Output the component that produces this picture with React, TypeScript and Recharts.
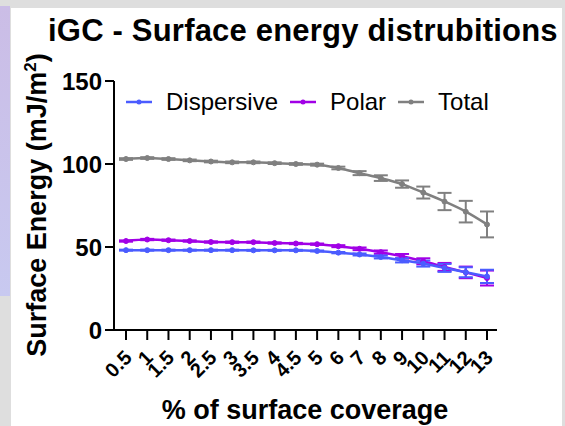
import React from "react";
import { LineChart, Line, XAxis, YAxis, ErrorBar } from "recharts";

const coverage = ["0.5", "1", "1.5", "2", "2.5", "3", "3.5", "4", "4.5", "5", "6", "7", "8", "9", "10", "11", "12", "13"];
const dispersive = [48.1, 48.1, 48.1, 48.1, 48.1, 48.1, 48.0, 48.0, 48.0, 47.6, 46.6, 45.5, 44.0, 42.0, 40.0, 37.4, 34.8, 32.3];
const dispersiveErr = [0.3, 0.3, 0.3, 0.3, 0.3, 0.3, 0.3, 0.3, 0.3, 0.3, 0.4, 0.6, 0.9, 1.3, 1.8, 2.4, 3.0, 4.0];
const polar = [53.6, 54.5, 54.1, 53.6, 53.0, 52.9, 52.9, 52.4, 52.1, 51.7, 50.5, 48.9, 46.9, 44.4, 41.4, 38.0, 34.7, 31.3];
const polarErr = [0.4, 0.4, 0.4, 0.4, 0.4, 0.4, 0.4, 0.4, 0.4, 0.4, 0.6, 0.8, 1.0, 1.4, 1.8, 2.4, 3.5, 4.5];
const total = [103.0, 103.6, 103.0, 102.2, 101.5, 101.0, 101.0, 100.5, 100.0, 99.6, 97.6, 94.5, 91.5, 87.9, 82.8, 77.4, 71.3, 63.6];
const totalErr = [0.5, 0.5, 0.5, 0.5, 0.5, 0.5, 0.5, 0.5, 0.5, 0.6, 0.8, 1.2, 1.7, 2.2, 3.6, 5.2, 6.5, 7.8];
const yTicks = [0, 50, 100, 150];

const series = [
  { key: "Dispersive", color: "#4b5cff" },
  { key: "Polar", color: "#a100e6" },
  { key: "Total", color: "#808080" },
];

const data = coverage.map((c, i) => ({
  x: c,
  Dispersive: dispersive[i],
  dErr: dispersiveErr[i],
  Polar: polar[i],
  pErr: polarErr[i],
  Total: total[i],
  tErr: totalErr[i],
}));

const FONT = '"Liberation Sans", Arial, sans-serif';

function XTick(props: any) {
  const { x, y, payload } = props;
  const ax = x + 7;
  const ay = y + 19;
  return (
    <text
      x={ax}
      y={ay}
      transform={`rotate(-45, ${ax}, ${ay})`}
      textAnchor="end"
      fontFamily={FONT}
      fontWeight="bold"
      fontSize={20}
      fill="#000"
    >
      {payload.value}
    </text>
  );
}

function ChartLegend() {
  return (
    <div
      style={{
        position: "absolute",
        left: 126,
        top: 88,
        display: "flex",
        alignItems: "center",
        fontFamily: FONT,
        fontSize: 24,
        lineHeight: "28px",
        color: "#000",
        whiteSpace: "nowrap",
      }}
    >
      {series.map((s) => (
        <div key={s.key} style={{ display: "flex", alignItems: "center", marginRight: 12 }}>
          <svg width={26} height={10} style={{ marginRight: 14 }}>
            <line x1={0} y1={5} x2={26} y2={5} stroke={s.color} strokeWidth={2.5} />
            <circle cx={13} cy={5} r={2.5} fill={s.color} />
          </svg>
          <span>{s.key}</span>
        </div>
      ))}
    </div>
  );
}

export default function App() {
  return (
    <div style={{ position: "absolute", left: 0, top: 0, width: 565, height: 426, background: "#dedede", overflow: "hidden" }}>
      <div style={{ position: "absolute", left: 0, top: 6, width: 10, height: 290, background: "linear-gradient(#cbbde6, #c8c9f0)" }} />
      <div style={{ position: "absolute", left: 11, top: 8, width: 551, height: 418, background: "#fff" }} />
      <div
        style={{
          position: "absolute",
          left: 48,
          top: 13,
          fontFamily: FONT,
          fontWeight: "bold",
          fontSize: 31,
          letterSpacing: 0.2,
          lineHeight: "36px",
          whiteSpace: "nowrap",
          color: "#000",
        }}
      >
        iGC - Surface energy distrubitions
      </div>
      <div
        style={{
          position: "absolute",
          left: 37,
          top: 205,
          transform: "translate(-50%, -50%) rotate(-90deg)",
          fontFamily: FONT,
          fontWeight: "bold",
          fontSize: 27,
          whiteSpace: "nowrap",
          color: "#000",
        }}
      >
        Surface Energy (mJ/m<sup style={{ fontSize: 17 }}>2</sup>)
      </div>
      <div
        style={{
          position: "absolute",
          left: 305,
          top: 410,
          transform: "translate(-50%, -50%)",
          fontFamily: FONT,
          fontWeight: "bold",
          fontSize: 27,
          whiteSpace: "nowrap",
          color: "#000",
        }}
      >
        % of surface coverage
      </div>
      <div style={{ position: "absolute", left: 0, top: 0 }}>
        <LineChart width={565} height={426} data={data} margin={{ top: 81, right: 68, bottom: 0, left: 0 }}>
          <XAxis
            dataKey="x"
            interval={0}
            padding={{ left: 12, right: 10 }}
            axisLine={{ stroke: "#000", strokeWidth: 2 }}
            tickLine={{ stroke: "#000", strokeWidth: 2 }}
            tickSize={10}
            tickMargin={0}
            height={96}
            tick={<XTick />}
          />
          <YAxis
            domain={[0, 150]}
            ticks={yTicks}
            width={114}
            axisLine={{ stroke: "#000", strokeWidth: 2 }}
            tickLine={{ stroke: "#000", strokeWidth: 2 }}
            tickSize={9}
            tickMargin={3}
            tick={{ fill: "#000", fontSize: 24, fontWeight: "bold", fontFamily: FONT }}
          />
          <Line
            dataKey="Total"
            type="monotone"
            stroke="#808080"
            strokeWidth={2.5}
            dot={{ r: 2.5, fill: "#808080", stroke: "#808080", strokeWidth: 1 }}
            isAnimationActive={false}
          >
            <ErrorBar dataKey="tErr" direction="y" width={7} stroke="#808080" strokeWidth={2} />
          </Line>
          <Line
            dataKey="Polar"
            type="monotone"
            stroke="#a100e6"
            strokeWidth={2.5}
            dot={{ r: 2.5, fill: "#a100e6", stroke: "#a100e6", strokeWidth: 1 }}
            isAnimationActive={false}
          >
            <ErrorBar dataKey="pErr" direction="y" width={7} stroke="#a100e6" strokeWidth={2} />
          </Line>
          <Line
            dataKey="Dispersive"
            type="monotone"
            stroke="#4b5cff"
            strokeWidth={2.5}
            dot={{ r: 2.5, fill: "#4b5cff", stroke: "#4b5cff", strokeWidth: 1 }}
            isAnimationActive={false}
          >
            <ErrorBar dataKey="dErr" direction="y" width={7} stroke="#4b5cff" strokeWidth={2} />
          </Line>
        </LineChart>
      </div>
      <ChartLegend />
    </div>
  );
}
